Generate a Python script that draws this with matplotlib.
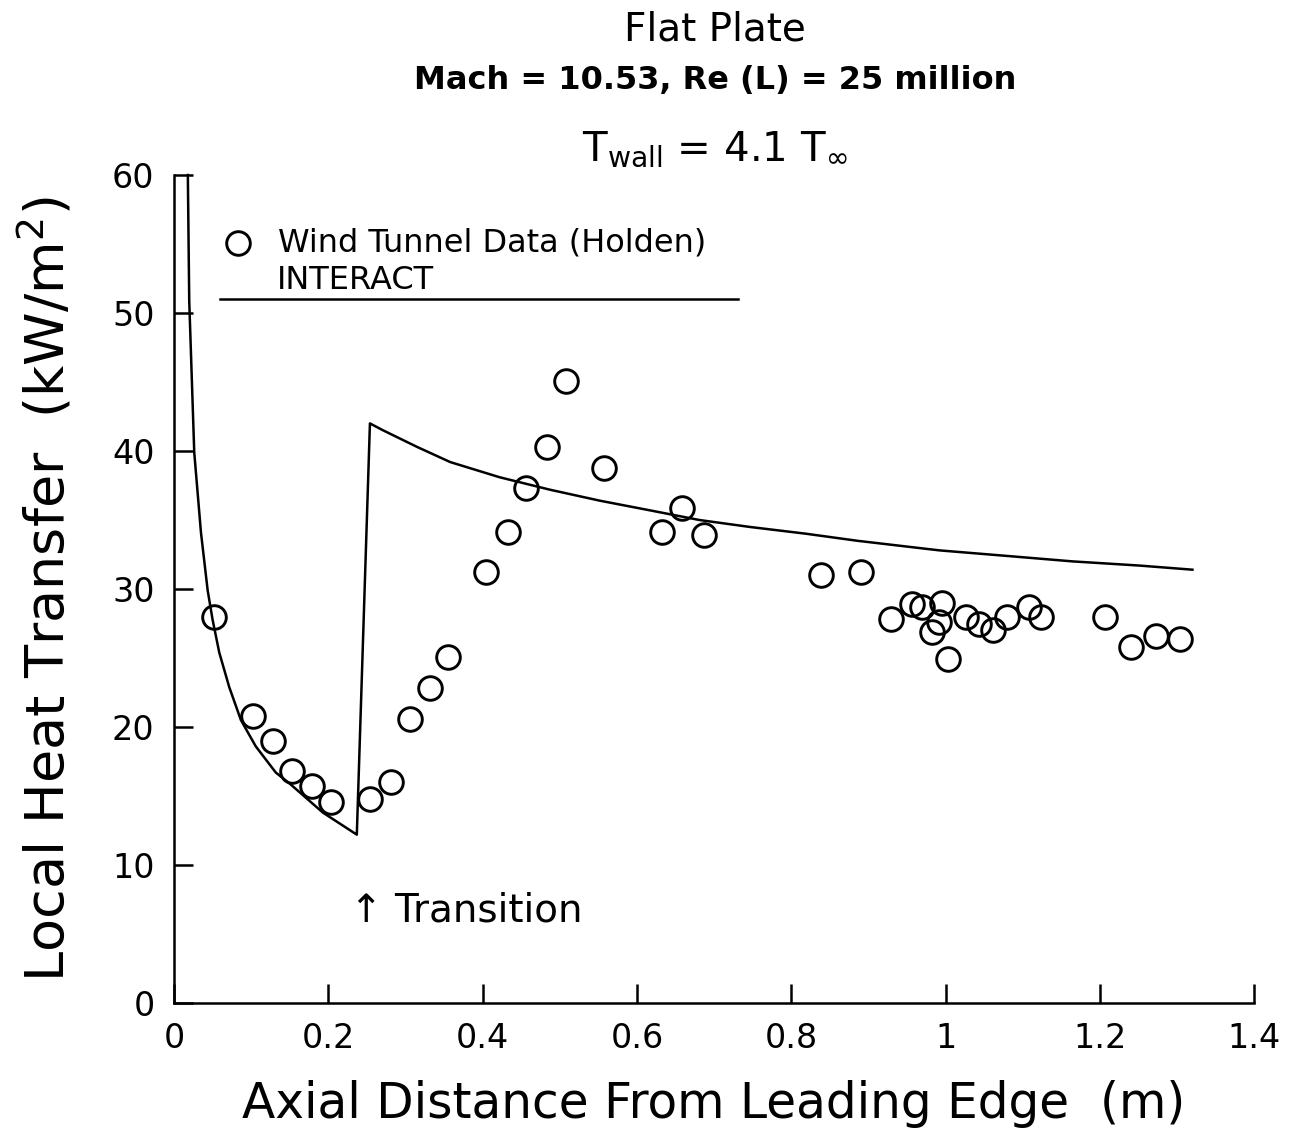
import numpy as np
import matplotlib as mpl
import matplotlib.pyplot as plt
mpl.use('Agg')

# Wind tunnel measurements (Holden)
x_data = [0.052, 0.102, 0.128, 0.153, 0.179, 0.203, 0.254, 0.281, 0.306, 0.332,
          0.355, 0.405, 0.433, 0.456, 0.483, 0.508, 0.558, 0.633, 0.659, 0.687,
          0.838, 0.890, 0.929, 0.956, 0.970, 0.983, 0.991, 0.995, 1.003, 1.027,
          1.044, 1.061, 1.080, 1.108, 1.124, 1.207, 1.240, 1.273, 1.304]
q_data = [28.0, 20.8, 19.0, 16.8, 15.7, 14.6, 14.8, 16.0, 20.6, 22.8,
          25.1, 31.2, 34.1, 37.3, 40.3, 45.1, 38.8, 34.1, 35.9, 33.9,
          31.0, 31.2, 27.8, 28.9, 28.7, 26.9, 27.6, 29.0, 24.9, 28.0,
          27.5, 27.0, 28.0, 28.7, 28.0, 28.0, 25.8, 26.6, 26.4]

# INTERACT prediction (laminar branch, transition jump, turbulent branch)
x_interact = [0.018, 0.0198, 0.0263, 0.035, 0.0437, 0.050, 0.0587, 0.0716, 0.0868, 0.106,
              0.132, 0.150, 0.193, 0.237, 0.254, 0.271, 0.315, 0.358, 0.422, 0.487,
              0.552, 0.617, 0.681, 0.746, 0.820, 0.885, 0.992, 1.079, 1.165, 1.251,
              1.320]
q_interact = [60.0, 50.9, 39.9, 34.1, 29.9, 27.8, 25.4, 22.9, 20.5, 18.6,
              16.7, 15.9, 13.8, 12.2, 42.0, 41.5, 40.3, 39.2, 38.1, 37.2,
              36.4, 35.7, 35.0, 34.5, 34.0, 33.5, 32.8, 32.4, 32.0, 31.7,
              31.4]

xticks = [0, 0.2, 0.4, 0.6, 0.8, 1, 1.2, 1.4]
xticklabels = ['0', '0.2', '0.4', '0.6', '0.8', '1', '1.2', '1.4']
yticks = [0, 10, 20, 30, 40, 50, 60]

plt.rcParams['font.family'] = 'DejaVu Sans'

fig = plt.figure(figsize=(13.03, 11.35), dpi=100)
ax = fig.add_axes([0.1335, 0.1163, 0.8290, 0.7295])

ax.plot(x_interact, q_interact, color='black', lw=1.8, clip_on=False)
ax.plot(x_data, q_data, 'o', ms=17, mfc='none', mec='black', mew=2.1)

ax.set_xlim(0, 1.4)
ax.set_ylim(0, 60)
ax.set_xticks(xticks)
ax.set_xticklabels(xticklabels)
ax.set_yticks(yticks)
ax.spines['top'].set_visible(False)
ax.spines['right'].set_visible(False)
ax.spines['left'].set_linewidth(1.8)
ax.spines['bottom'].set_linewidth(1.8)
ax.tick_params(direction='in', length=14, width=1.8, labelsize=24, pad=14)

ax.set_xlabel('Axial Distance From Leading Edge  (m)', fontsize=35, labelpad=18)
ax.set_ylabel(r'Local Heat Transfer  (kW/m$^2$)', fontsize=39, labelpad=26)

# legend drawn by hand
ax.plot([0.059], [0.918], 'o', ms=17, mfc='none', mec='black', mew=2.1,
        transform=ax.transAxes, clip_on=False)
ax.text(0.096, 0.918, 'Wind Tunnel Data (Holden)', fontsize=23,
        va='center', ha='left', transform=ax.transAxes)
ax.text(0.095, 0.872, 'INTERACT', fontsize=23, va='center', ha='left',
        transform=ax.transAxes)
ax.plot([0.0426, 0.5222], [0.8502, 0.8502], color='black', lw=1.8,
        transform=ax.transAxes, clip_on=False)

ax.text(0.163, 0.112, '\u2191 Transition', fontsize=28, va='center', ha='left',
        transform=ax.transAxes)

fig.text(0.549, 0.9736, 'Flat Plate', fontsize=28, ha='center', va='center')
fig.text(0.549, 0.9295, 'Mach = 10.53, Re (L) = 25 million', fontsize=23,
         ha='center', va='center', fontweight='bold')
fig.text(0.549, 0.868, r'T$_{\mathrm{wall}}$ = 4.1 T$_{\infty}$', fontsize=29,
         ha='center', va='center')

plt.savefig('out.png', dpi=100)
